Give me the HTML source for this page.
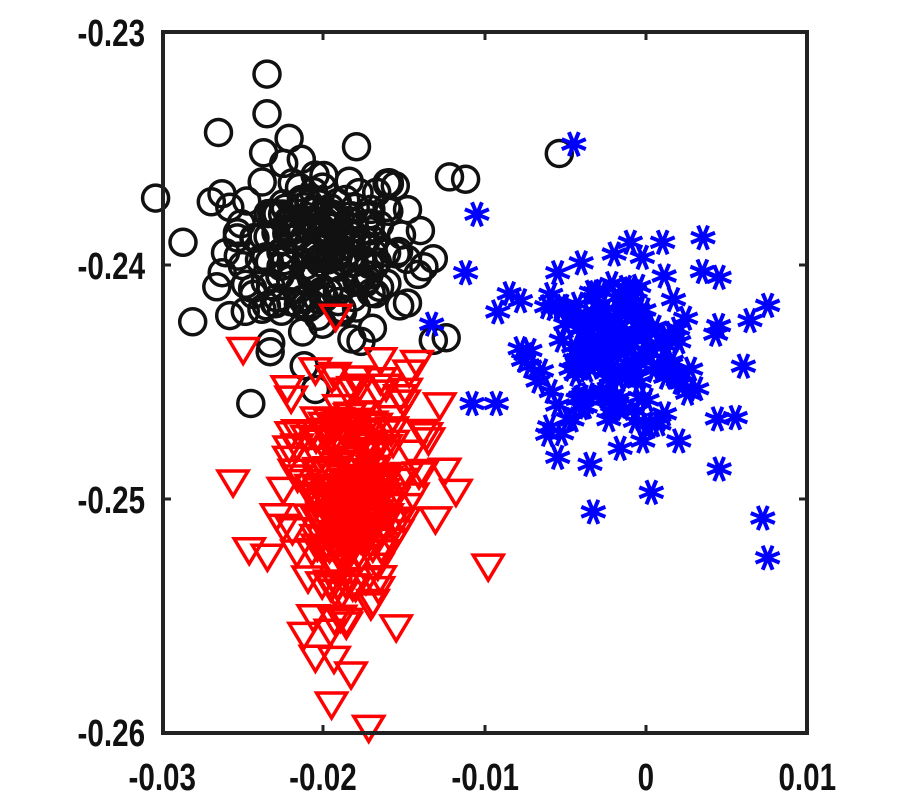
<!DOCTYPE html>
<html><head><meta charset="utf-8"><style>
body{margin:0;background:#fff;width:900px;height:800px;overflow:hidden}
svg{display:block}
text{font-family:"Liberation Sans",sans-serif;font-weight:bold;font-size:38px;fill:#111}
</style></head><body>
<svg id="s" width="900" height="800" xmlns="http://www.w3.org/2000/svg">
<rect x="0" y="0" width="900" height="800" fill="#fff"/>
<g id="pts"></g>
<rect x="163" y="32" width="644" height="701" fill="none" stroke="#222" stroke-width="4"/>
<g stroke="#222" stroke-width="3">
<line x1="323" y1="733" x2="323" y2="725"/><line x1="485" y1="733" x2="485" y2="725"/><line x1="646" y1="733" x2="646" y2="725"/>
<line x1="323" y1="32" x2="323" y2="40"/><line x1="485" y1="32" x2="485" y2="40"/><line x1="646" y1="32" x2="646" y2="40"/>
<line x1="163" y1="265" x2="171" y2="265"/><line x1="163" y1="499" x2="171" y2="499"/>
<line x1="807" y1="265" x2="799" y2="265"/><line x1="807" y1="499" x2="799" y2="499"/>
</g>
<g text-anchor="end" transform="scale(0.78,1)">
<text x="186" y="46">-0.23</text>
<text x="186" y="279">-0.24</text>
<text x="186" y="513">-0.25</text>
<text x="186" y="746">-0.26</text>
</g>
<g text-anchor="middle" transform="scale(0.78,1)">
<text x="208" y="790">-0.03</text>
<text x="414" y="790">-0.02</text>
<text x="622" y="790">-0.01</text>
<text x="828" y="790">0</text>
<text x="1035" y="790">0.01</text>
</g>
</svg>
<script>
var seed=12345;function r(){seed=(seed*1103515245+12345)%2147483648;return seed/2147483648;}
function g(){var u=r()||1e-9,v=r();return Math.sqrt(-2*Math.log(u))*Math.cos(2*Math.PI*v);}
function px(x){return 162+(x+0.03)*16150;}function py(y){return 32+(-0.23-y)*23367;}
var h='';
function circ(x,y){h+='<circle cx="'+px(x).toFixed(1)+'" cy="'+py(y).toFixed(1)+'" r="13" fill="none" stroke="#111" stroke-width="3.5"/>';}
function tri(x,y){var a=px(x),b=py(y);h+='<polygon points="'+(a-15)+','+(b-12)+' '+(a+15)+','+(b-12)+' '+a+','+(b+13)+'" fill="none" stroke="#f00" stroke-width="3.5"/>';}
function star(x,y){var a=px(x),b=py(y),d='';for(var k=0;k<4;k++){var t=k*Math.PI/4+Math.PI/8,c=Math.cos(t)*13,s=Math.sin(t)*13;d+='M'+(a-c).toFixed(1)+' '+(b-s).toFixed(1)+'L'+(a+c).toFixed(1)+' '+(b+s).toFixed(1);}h+='<path d="'+d+'" stroke="#00f" stroke-width="4"/>';}
var i;
for(i=0;i<200;i++)circ(-0.0203+g()*0.0029,-0.2393+g()*0.0019);
[[-0.0235,-0.2318],[-0.0235,-0.2335],[-0.0265,-0.2343],[-0.0287,-0.239],[-0.0281,-0.2424],[-0.0245,-0.2459],[-0.0205,-0.2453],[-0.0112,-0.2363],[-0.0122,-0.2362],[-0.0054,-0.2352],[-0.0258,-0.2375],[-0.0148,-0.2376],[-0.0132,-0.2397],[-0.0168,-0.2412],[-0.0148,-0.2416],[-0.0132,-0.2432],[-0.014,-0.2385],[-0.0155,-0.2395]].forEach(function(p){circ(p[0],p[1]);});
for(i=0;i<250;i++){var yy=-0.2497+g()*0.0027;var sp=Math.max(0.0008,0.0018-(-0.2497-yy)*0.12);tri(-0.0185+g()*sp,yy);}
[[-0.0256,-0.2493],[-0.0098,-0.2529],[-0.0195,-0.2588],[-0.0172,-0.2598],[-0.0118,-0.2497],[-0.0128,-0.246],[-0.0147,-0.2446],[-0.0205,-0.2445],[-0.0246,-0.2522],[-0.0125,-0.2488],[-0.0205,-0.2568],[-0.0155,-0.2555],[-0.0225,-0.2512],[-0.0135,-0.2475]].forEach(function(p){tri(p[0],p[1]);});
for(i=0;i<170;i++)star(-0.0018+g()*0.0026,-0.2437+g()*0.0017);
[[-0.0045,-0.2348],[-0.0105,-0.2378],[-0.0112,-0.2403],[-0.0133,-0.2425],[-0.0108,-0.2459],[-0.0093,-0.2459],[-0.0085,-0.2412],[-0.0078,-0.2415],[-0.0055,-0.2403],[-0.0065,-0.2445],[-0.006,-0.2469],[-0.0055,-0.2482],[-0.0035,-0.2485],[0.0003,-0.2497],[0.002,-0.2475],[0.0045,-0.2487],[0.0072,-0.2508],[0.0075,-0.2525],[0.0075,-0.2417],[0.006,-0.2443],[0.0035,-0.2388],[0.001,-0.239],[-0.001,-0.239],[0.0045,-0.2405],[0.0055,-0.2465],[-0.002,-0.2395],[-0.005,-0.2425]].forEach(function(p){star(p[0],p[1]);});
document.getElementById('pts').innerHTML=h;
</script>
</body></html>
